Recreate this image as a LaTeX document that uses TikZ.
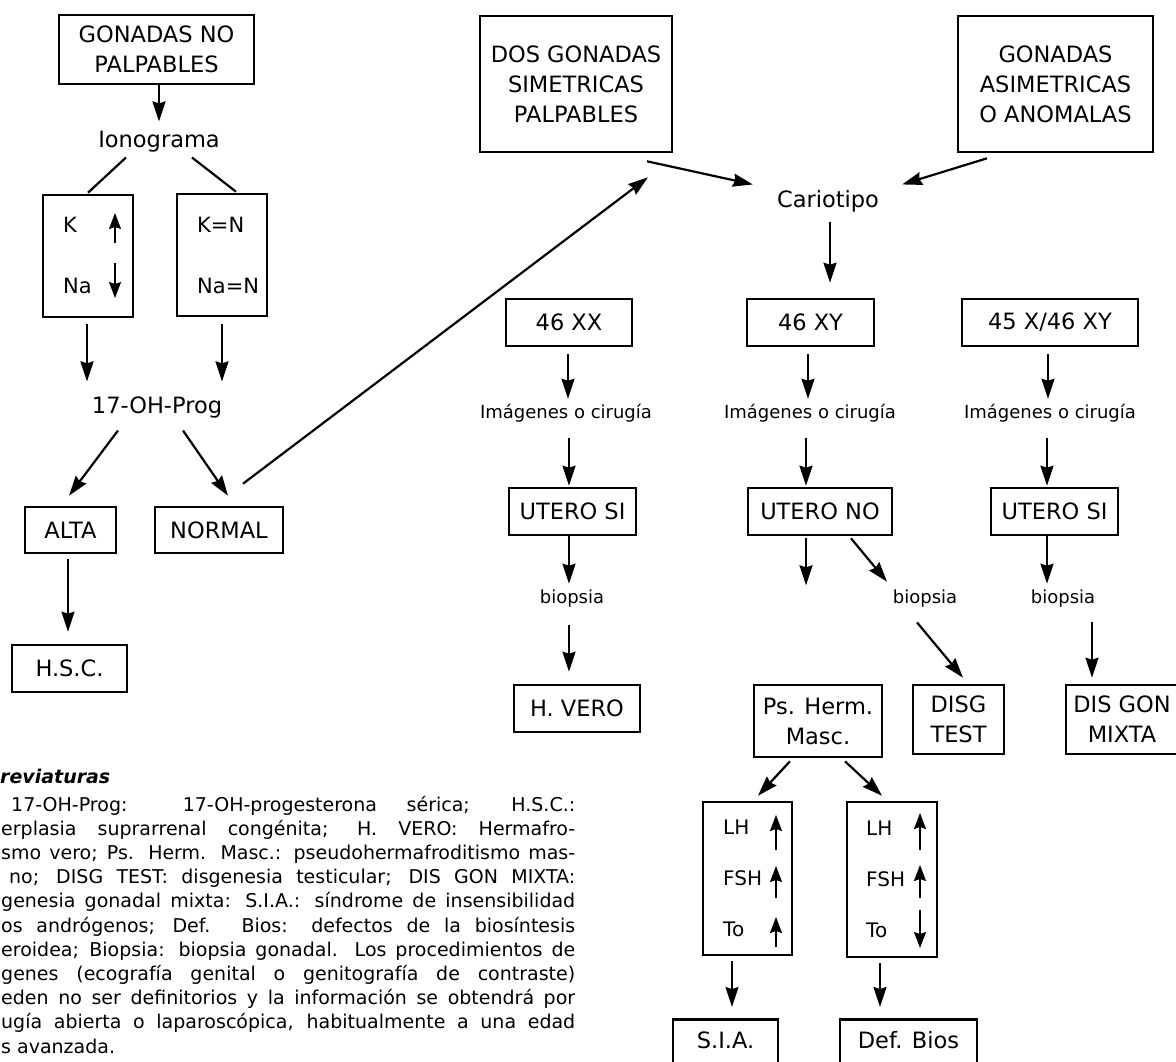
\documentclass[tikz,border=0pt]{standalone}
\usepackage{fontspec}
\setmainfont{DejaVu Sans}
\usetikzlibrary{arrows.meta,calc}
\begin{document}
\begin{tikzpicture}[x=1pt,y=-1pt,
  bx/.style={draw,line width=2.6pt,inner sep=0pt,align=center,font=\fontsize{22.5}{30}\selectfont},
  lbl/.style={inner sep=0pt,anchor=base,font=\fontsize{22.5}{30}\selectfont,text height=16.4pt,text depth=5.3pt},
  slbl/.style={inner sep=0pt,anchor=base,font=\fontsize{18}{22}\selectfont,text height=13.1pt,text depth=4.2pt},
  arr/.style={line width=2.2pt,-{Stealth[length=20pt,width=13pt,inset=2pt]}},
  ln/.style={line width=2.2pt},
  iarr/.style={line width=1.5pt,-{Stealth[length=16pt,width=12pt,inset=2pt]}},
  itx/.style={inner sep=0pt,anchor=base west,font=\fontsize{21}{25}\selectfont},
  htx/.style={inner sep=0pt,anchor=base west,font=\fontsize{20}{24}\selectfont},
  para/.style={inner sep=0pt,anchor=base west,font=\fontsize{19}{25}\selectfont},
  head/.style={inner sep=0pt,anchor=base west,font=\fontsize{19}{25}\selectfont\bfseries\itshape},
]
\useasboundingbox (0,0) rectangle (1176,1061);
\clip (0,0) rectangle (1176,1061);
\fill[white] (0,0) rectangle (1176,1061);

% ---------- left column ----------
\node[bx,minimum width=195pt,minimum height=69pt] (gnp) at (156.5,49.5) {GONADAS NO\\PALPABLES};
\node[lbl] (iono) at (159,147) {Ionograma};
\node[bx,minimum width=90pt,minimum height=122pt] (kbox) at (88,256) {};
\node[bx,minimum width=90pt,minimum height=122pt] (knbox) at (222,255) {};
\node[itx] (tK) at (63,232) {K};
\node[itx] (tNa) at (63,293) {Na};
\node[itx] (tKN) at (197,232) {K=N};
\node[itx] (tNaN) at (197,293) {Na=N};
\draw[iarr] (115,243) -- (115,213);
\draw[iarr] (115,263) -- (115,298);
\node[lbl] (ohp) at (157,413) {17-OH-Prog};
\node[bx,minimum width=91pt,minimum height=46pt] (alta) at (70.5,530) {ALTA};
\node[bx,minimum width=128pt,minimum height=46pt] (normal) at (219,530) {NORMAL};
\node[bx,minimum width=115pt,minimum height=47pt] (hsc) at (69.5,668.5) {H.S.C.};

% ---------- top right ----------
\node[bx,minimum width=192pt,minimum height=136pt] (dos) at (576,84) {DOS GONADAS\\SIMETRICAS\\PALPABLES};
\node[bx,minimum width=195pt,minimum height=136pt] (asim) at (1055.5,84) {GONADAS\\ASIMETRICAS\\O ANOMALAS};
\node[lbl] (cario) at (828,207) {Cariotipo};
\node[bx,minimum width=126pt,minimum height=47pt] (xx) at (569,322.5) {46 XX};
\node[bx,minimum width=127pt,minimum height=47pt] (xy) at (810.5,322.5) {46 XY};
\node[bx,minimum width=176pt,minimum height=47pt] (xm) at (1050,322.5) {45 X/46 XY};
\node[slbl] (imag1) at (566,418) {Imágenes o cirugía};
\node[slbl] (imag2) at (810,418) {Imágenes o cirugía};
\node[slbl] (imag3) at (1050,418) {Imágenes o cirugía};
\node[bx,minimum width=127pt,minimum height=47pt] (usi1) at (572.5,511.5) {UTERO SI};
\node[bx,minimum width=144pt,minimum height=47pt] (uno) at (820,511.5) {UTERO NO};
\node[bx,minimum width=127pt,minimum height=47pt] (usi2) at (1054.5,511.5) {UTERO SI};
\node[slbl] (bio1) at (572,603) {biopsia};
\node[slbl] (bio2) at (925,603) {biopsia};
\node[slbl] (bio3) at (1063,603) {biopsia};
\node[bx,minimum width=126pt,minimum height=47pt] (hvero) at (577,708.5) {H. VERO};
\node[bx,minimum width=128pt,minimum height=72pt] (psh) at (818,721) {Ps. Herm.\\Masc.};
\node[bx,minimum width=91pt,minimum height=69pt] (disg) at (958.5,719.5) {DISG\\TEST};
\node[bx,minimum width=112pt,minimum height=69pt] (dgm) at (1122,719.5) {DIS GON\\MIXTA};

% hormone boxes
\node[bx,minimum width=89pt,minimum height=153pt] (lh1) at (747.5,878.5) {};
\node[bx,minimum width=90pt,minimum height=155pt] (lh2) at (892,879.5) {};
\node[htx] (lh1a) at (723,834) {LH};
\node[htx] (lh1b) at (723,885) {FSH};
\node[htx] (lh1c) at (723,936) {To};
\node[htx] (lh2a) at (866,835) {LH};
\node[htx] (lh2b) at (866,886) {FSH};
\node[htx] (lh2c) at (866,937) {To};
\draw[iarr] (776,850) -- (776,815);
\draw[iarr] (776,898) -- (776,866);
\draw[iarr] (776,947) -- (776,917);
\draw[iarr] (920,850) -- (920,813);
\draw[iarr] (920,898) -- (920,865);
\draw[iarr] (920,910) -- (920,948);
\node[bx,anchor=north,minimum width=105pt,inner ysep=13pt,text height=16.4pt,text depth=40pt] (sia) at (725.5,1018) {S.I.A.};
\node[bx,anchor=north,minimum width=137pt,inner ysep=13pt,text height=16.4pt,text depth=40pt] (defb) at (908.5,1018) {Def. Bios};

% ---------- connectors ----------
\draw[arr] ($(gnp.south)+(2.5,0)$) -- ($(iono.north)+(0,-9)$);
\draw[ln] ($(iono.south)+(-33,5)$) -- ($(kbox.north)+(0,-1)$);
\draw[ln] ($(iono.south)+(33,5)$) -- ($(knbox.north)+(14,-1)$);
\draw[arr] ($(kbox.south)+(-1,6)$) -- ($(kbox.south |- ohp.north)+(-1,-15)$);
\draw[arr] ($(knbox.south)+(0,7)$) -- ($(knbox.south |- ohp.north)+(0,-15)$);
\draw[arr] ($(ohp.south)+(-39,12)$) -- ($(alta.north)+(-1.5,-10)$);
\draw[arr] ($(ohp.south)+(26,12)$) -- ($(normal.north)+(9,-10)$);
\draw[arr] ($(normal.north)+(24,-22)$) -- ($(dos.south)+(72,24)$);
\draw[arr] ($(alta.south)+(-2.5,5)$) -- ($(alta.south |- hsc.north)+(-2.5,-12)$);
\draw[arr] ($(dos.south)+(71,8)$) -- ($(cario.west)+(-24,-17)$);
\draw[arr] ($(asim.south)+(-68.5,5)$) -- ($(cario.east)+(23,-17)$);
\draw[arr] ($(cario.south)+(2,9)$) -- ($(cario.south |- xy.north)+(2,-15)$);
\draw[arr] ($(xx.south)+(-1,7)$) -- ($(xx.south |- imag1.north)+(-1,-6)$);
\draw[arr] ($(xy.south)+(-2.5,7)$) -- ($(xy.south |- imag2.north)+(-2.5,-6)$);
\draw[arr] ($(xm.south)+(-2,7)$) -- ($(xm.south |- imag3.north)+(-2,-6)$);
\draw[arr] ($(imag1.south)+(3,16)$) -- ($(imag1.south |- usi1.north)+(3,-1)$);
\draw[arr] ($(imag2.south)+(-4,16)$) -- ($(imag2.south |- uno.north)+(-4,-1)$);
\draw[arr] ($(imag3.south)+(-3,16)$) -- ($(imag3.south |- usi2.north)+(-3,-1)$);
\draw[arr] ($(usi1.south)+(-3.5,0)$) -- ($(usi1.south |- bio1.north)+(-3.5,-6)$);
\coordinate (unoend) at ($(uno.south)+(-14,49)$);
\draw[arr] ($(uno.south)+(-14,2)$) -- (unoend);
\draw[arr] ($(uno.south)+(31,2)$) -- ($(bio2.north)+(-38,-8)$);
\draw[arr] ($(usi2.south)+(-7.5,0)$) -- ($(usi2.south |- bio3.north)+(-7.5,-6)$);
\draw[arr] ($(bio1.south)+(-3,18)$) -- ($(bio1.south |- hvero.north)+(-3,-12)$);
\draw[arr] ($(bio2.south)+(-8,15)$) -- ($(disg.north)+(4.5,-6)$);
\draw[arr] ($(bio3.south)+(29,15)$) -- ($(bio3.south |- dgm.north)+(29,-6)$);
\draw[arr] ($(psh.south)+(-28,3)$) -- ($(lh1.north)+(10.5,-5)$);
\draw[arr] ($(psh.south)+(27,3)$) -- ($(lh2.north)+(-10,-5)$);
\draw[arr] ($(lh1.south)+(-15.5,5)$) -- ($(lh1.south |- sia.north)+(-15.5,-11)$);
\draw[arr] ($(lh2.south)+(-12,5)$) -- ($(lh2.south |- defb.north)+(-12,-11)$);

% ---------- abbreviations ----------
\node[head] (abh) at (0,783) {reviaturas};
\node[para] (p1) at (11,811) {\hbox to 564pt{17-OH-Prog: 17-OH-progesterona sérica; H.S.C.:}};
\node[para] (p2) at (1,835.2) {\hbox to 574pt{erplasia suprarrenal congénita; H. VERO: Hermafro-}};
\node[para] (p3) at (1,859.4) {\hbox to 574pt{smo vero; Ps. Herm. Masc.: pseudohermafroditismo mas-}};
\node[para] (p4) at (9,883.6) {\hbox to 566pt{no; DISG TEST: disgenesia testicular; DIS GON MIXTA:}};
\node[para] (p5) at (1,907.8) {\hbox to 574pt{genesia gonadal mixta: S.I.A.: síndrome de insensibilidad}};
\node[para] (p6) at (1,932) {\hbox to 574pt{os andrógenos; Def. Bios: defectos de la biosíntesis}};
\node[para] (p7) at (1,956.2) {\hbox to 574pt{eroidea; Biopsia: biopsia gonadal. Los procedimientos de}};
\node[para] (p8) at (1,980.4) {\hbox to 574pt{genes (ecografía genital o genitografía de contraste)}};
\node[para] (p9) at (1,1004.6) {\hbox to 574pt{eden no ser definitorios y la información se obtendrá por}};
\node[para] (p10) at (1,1028.8) {\hbox to 574pt{ugía abierta o laparoscópica, habitualmente a una edad}};
\node[para] (p11) at (1,1053) {s avanzada.};
\end{tikzpicture}
\end{document}
